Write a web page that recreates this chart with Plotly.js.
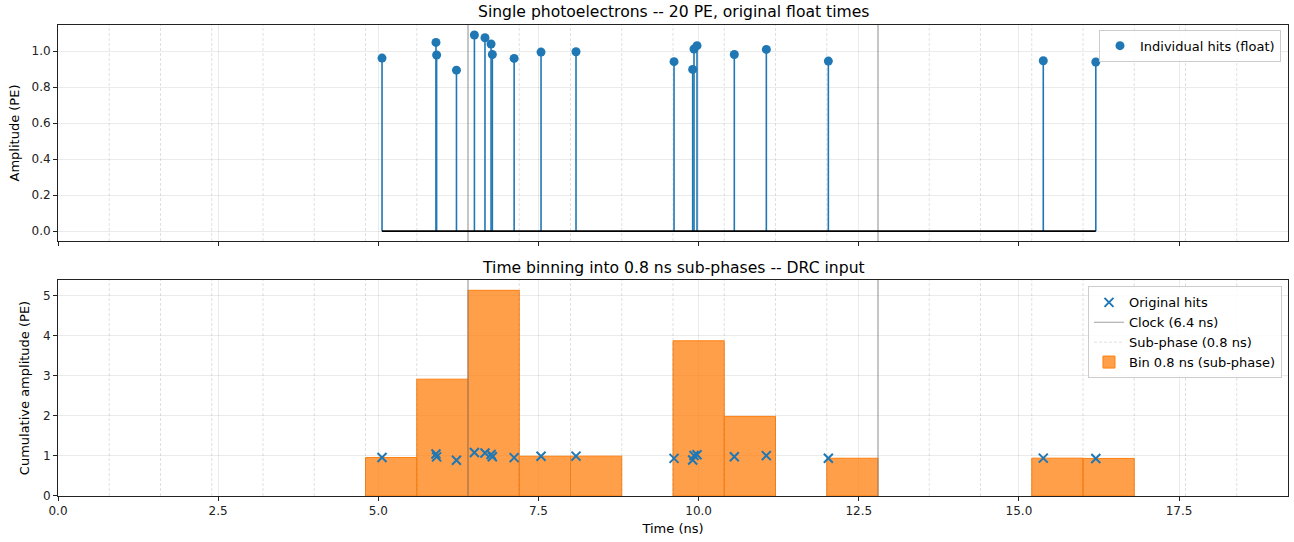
<!DOCTYPE html>
<html>
<head>
<meta charset="utf-8">
<script src="https://cdn.plot.ly/plotly-3.0.1.min.js"></script>
<style>html,body{margin:0;padding:0;background:#fff}#chart{width:1294px;height:542px}</style>
</head>
<body>
<div id="chart"></div>
<script>
// ---- data ----
const hitTimes = [5.058, 5.900, 5.910, 6.220, 6.500, 6.665, 6.760, 6.780, 7.120, 7.540,
                  8.086, 9.616, 9.907, 9.928, 9.975, 10.557, 11.057, 12.025, 15.380, 16.200];
const hitAmps  = [0.961, 1.048, 0.978, 0.894, 1.089, 1.074, 1.039, 0.981, 0.959, 0.994,
                  0.996, 0.941, 0.898, 1.011, 1.030, 0.981, 1.009, 0.944, 0.946, 0.939];
const clockTimes = [6.4, 12.8];
const subPhaseTimes = [0.8, 1.6, 2.4, 3.2, 4.0, 4.8, 5.6, 7.2, 8.0, 8.8, 9.6, 10.4,
                       11.2, 12.0, 13.6, 14.4, 15.2, 16.0, 16.8, 17.6, 18.4];
const xTickVals = [0, 2.5, 5, 7.5, 10, 12.5, 15, 17.5];
const xTickText = ["0.0", "2.5", "5.0", "7.5", "10.0", "12.5", "15.0", "17.5"];
const binStart = 0, binEnd = 19.2, binSize = 0.8;

// ---- helpers ----
const XR = [0, 19.2];
const Y1R = [-0.0545, 1.1445];
const Y2R = [0, 5.4];
function vlines(xs, yr) {
  const x = [], y = [];
  xs.forEach(v => { x.push(v, v, null); y.push(yr[0], yr[1], null); });
  return {x, y};
}
const stemX = [], stemY = [];
hitTimes.forEach((t, i) => { stemX.push(t, t, null); stemY.push(0, hitAmps[i], null); });

const blue = '#1f77b4', orange = '#ff7f0e';
const subStyle = {color: 'rgba(128,128,128,0.28)', width: 0.9, dash: '3px,2px'};
const clockStyle = {color: 'rgba(128,128,128,0.75)', width: 1.2};
const font = 'DejaVu Sans, sans-serif';

const sub1 = vlines(subPhaseTimes, Y1R), clk1 = vlines(clockTimes, Y1R);
const sub2 = vlines(subPhaseTimes, Y2R), clk2 = vlines(clockTimes, Y2R);

const traces = [
  // top panel
  {x: sub1.x, y: sub1.y, xaxis: 'x', yaxis: 'y', mode: 'lines', line: subStyle, showlegend: false, hoverinfo: 'skip'},
  {x: clk1.x, y: clk1.y, xaxis: 'x', yaxis: 'y', mode: 'lines', line: clockStyle, showlegend: false, hoverinfo: 'skip'},
  {x: stemX, y: stemY, xaxis: 'x', yaxis: 'y', mode: 'lines', line: {color: blue, width: 1.6}, showlegend: false},
  {x: [Math.min(...hitTimes), Math.max(...hitTimes)], y: [0, 0], xaxis: 'x', yaxis: 'y', mode: 'lines',
   line: {color: '#000', width: 1.8}, showlegend: false},
  {x: hitTimes, y: hitAmps, xaxis: 'x', yaxis: 'y', mode: 'markers', name: 'Individual hits (float)',
   marker: {color: blue, size: 9, symbol: 'circle'}, legend: 'legend'},
  // bottom panel
  {x: sub2.x, y: sub2.y, xaxis: 'x2', yaxis: 'y2', mode: 'lines', line: subStyle, name: 'Sub-phase (0.8 ns)',
   legend: 'legend2', legendrank: 3, hoverinfo: 'skip'},
  {type: 'histogram', x: hitTimes, y: hitAmps, histfunc: 'sum', xaxis: 'x2', yaxis: 'y2',
   xbins: {start: binStart, end: binEnd, size: binSize}, name: 'Bin 0.8 ns (sub-phase)',
   marker: {color: 'rgba(255,127,14,0.75)', line: {color: orange, width: 1}},
   legend: 'legend2', legendrank: 4},
  {x: clk2.x, y: clk2.y, xaxis: 'x2', yaxis: 'y2', mode: 'lines', line: clockStyle, name: 'Clock (6.4 ns)',
   legend: 'legend2', legendrank: 2, hoverinfo: 'skip'},
  {x: hitTimes, y: hitAmps, xaxis: 'x2', yaxis: 'y2', mode: 'markers', name: 'Original hits',
   marker: {symbol: 'x-thin', size: 9, color: blue, line: {color: blue, width: 2}},
   legend: 'legend2', legendrank: 1}
];

const axCommon = {
  showline: true, mirror: true, linecolor: '#222', linewidth: 1,
  ticks: 'outside', ticklen: 4, tickcolor: '#222',
  showgrid: true, gridcolor: 'rgba(0,0,0,0.08)', gridwidth: 1, zeroline: false,
  tickfont: {family: font, size: 12, color: '#222'}
};

const layout = {
  width: 1294, height: 542,
  margin: {l: 58, r: 6, t: 25, b: 46},
  paper_bgcolor: '#fff', plot_bgcolor: '#fff',
  font: {family: font, color: '#000'},
  bargap: 0,
  xaxis: Object.assign({}, axCommon, {domain: [0, 1], range: XR, anchor: 'y', tickvals: xTickVals,
    showticklabels: false}),
  yaxis: Object.assign({}, axCommon, {domain: [0.5414, 1], range: Y1R, anchor: 'x',
    tickvals: [0, 0.2, 0.4, 0.6, 0.8, 1.0], ticktext: ['0.0', '0.2', '0.4', '0.6', '0.8', '1.0'],
    title: {text: 'Amplitude (PE)', font: {family: font, size: 13}, standoff: 8}}),
  xaxis2: Object.assign({}, axCommon, {domain: [0, 1], range: XR, anchor: 'y2', tickvals: xTickVals,
    ticktext: xTickText, title: {text: 'Time (ns)', font: {family: font, size: 13}, standoff: 6}}),
  yaxis2: Object.assign({}, axCommon, {domain: [0, 0.4586], range: Y2R, anchor: 'x2',
    tickvals: [0, 1, 2, 3, 4, 5],
    title: {text: 'Cumulative amplitude (PE)', font: {family: font, size: 13}, standoff: 10}}),
  legend: {x: 0.9943, xanchor: 'right', y: 0.99, yanchor: 'top', bgcolor: 'rgba(255,255,255,0.85)',
    bordercolor: '#ccc', borderwidth: 1, font: {family: font, size: 13}},
  legend2: {x: 0.9951, xanchor: 'right', y: 0.445, yanchor: 'top', bgcolor: 'rgba(255,255,255,0.85)',
    bordercolor: '#ccc', borderwidth: 1, font: {family: font, size: 13}, traceorder: 'normal'},
  annotations: [
    {text: 'Single photoelectrons -- 20 PE, original float times', xref: 'paper', yref: 'paper',
     x: 0.5, y: 1.0276, xanchor: 'center', yanchor: 'middle', showarrow: false,
     font: {family: font, size: 15.6}},
    {text: 'Time binning into 0.8 ns sub-phases -- DRC input', xref: 'paper', yref: 'paper',
     x: 0.5, y: 0.484, xanchor: 'center', yanchor: 'middle', showarrow: false,
     font: {family: font, size: 15.6}}
  ]
};

Plotly.newPlot('chart', traces, layout, {displayModeBar: false, staticPlot: true});
</script>
</body>
</html>
